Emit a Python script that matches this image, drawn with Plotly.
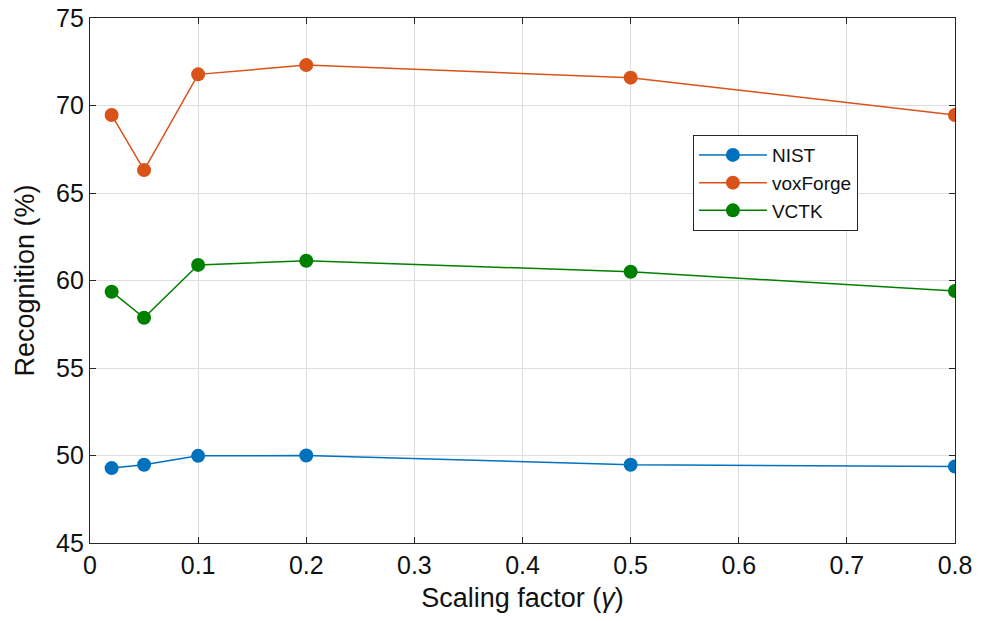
import plotly.graph_objects as go

x_vals = [0.02, 0.05, 0.1, 0.2, 0.5, 0.8]
nist = [49.28, 49.47, 49.98, 50.0, 49.47, 49.37]
voxforge = [69.46, 66.31, 71.78, 72.31, 71.59, 69.46]
vctk = [59.36, 57.87, 60.89, 61.13, 60.5, 59.4]
series_names = ["NIST", "voxForge", "VCTK"]
colors = ["#0072BD", "#D95319", "#008000"]

fig = go.Figure()
for name, vals, c in zip(series_names, [nist, voxforge, vctk], colors):
    fig.add_trace(go.Scatter(
        x=x_vals, y=vals, name=name, mode="lines+markers",
        line=dict(color=c, width=1.5),
        marker=dict(color=c, size=14, symbol="circle"),
    ))

font_family = "Liberation Sans, Arial, Helvetica, sans-serif"
axis_common = dict(
    showline=True, linecolor="#262626", linewidth=1.2, mirror="ticks",
    ticks="inside", ticklen=6, tickcolor="#262626",
    showgrid=True, gridcolor="#dedede", gridwidth=1,
    zeroline=False, automargin=False,
    tickfont=dict(family=font_family, size=25, color="#111111"),
)

fig.update_layout(
    width=989, height=621,
    margin=dict(l=90, r=34, t=18, b=78),
    paper_bgcolor="white", plot_bgcolor="white",
    font=dict(family=font_family, color="#111111"),
    xaxis=dict(range=[0, 0.8], dtick=0.1, tickformat=".1~f",
               title=dict(text="Scaling factor (<i>γ</i>)", font=dict(size=27), standoff=10),
               **axis_common),
    yaxis=dict(range=[45, 75], dtick=5,
               title=dict(text="Recognition (%)", font=dict(size=27), standoff=13),
               **axis_common),
    legend=dict(
        x=0.697, y=0.777, xanchor="left", yanchor="top",
        bgcolor="white", bordercolor="#262626", borderwidth=1,
        font=dict(family=font_family, size=19, color="#111111"),
        itemwidth=68, tracegroupgap=0,
    ),
    showlegend=True,
)

fig.write_html("out.html", config={"displayModeBar": False},
               post_script="document.body.style.margin='0';")
